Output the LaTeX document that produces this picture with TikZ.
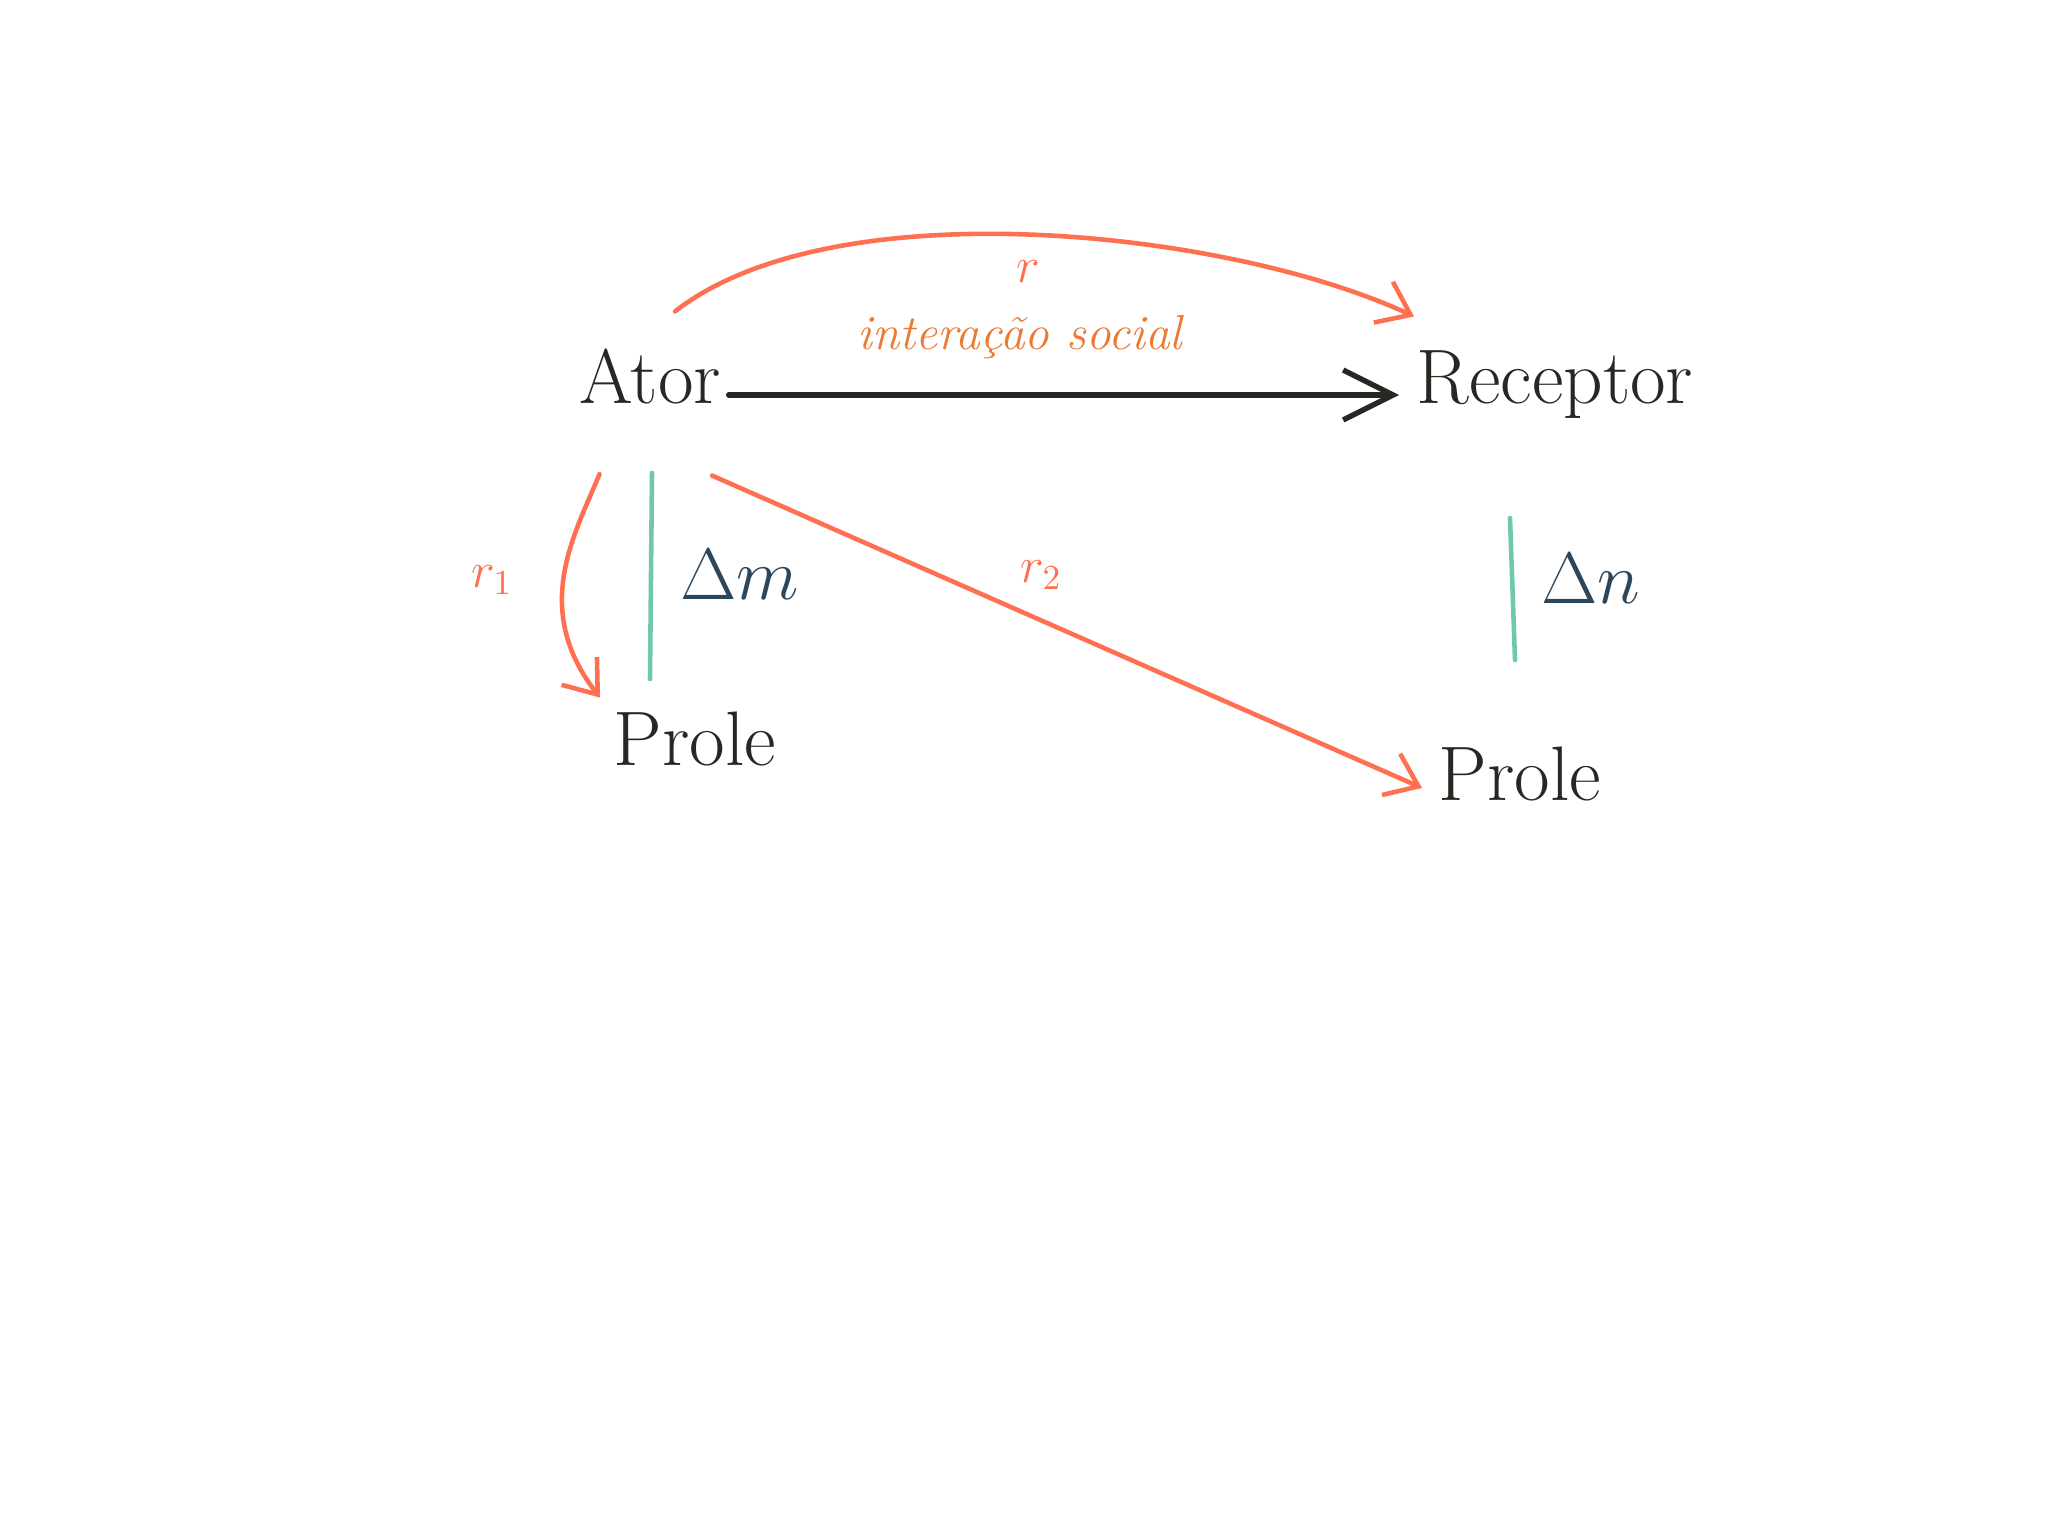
\documentclass[tikz,border=0pt]{standalone}
\usetikzlibrary{arrows.meta}

\definecolor{ink}{RGB}{40,40,35}
\definecolor{coral}{RGB}{255,112,80}
\definecolor{tangerine}{RGB}{236,122,52}
\definecolor{mint}{RGB}{112,200,170}
\definecolor{slate}{RGB}{45,70,90}

\begin{document}
\begin{tikzpicture}[> = {Straight Barb[length = 3mm, width = 4.5mm]}, line cap = round]

	% Definitions

	\def\Big{\fontsize{22}{26}\selectfont}	% Word size
	\def\Small{\fontsize{14}{17}\selectfont}	% Label size

	\tikzset{
		word/.style = {font = \Big, text = ink, text height = 0.7em, text depth = 0.2em, inner sep = 2pt},
		tag/.style = {font = \Small, text = coral},
		delta/.style = {font = \Big, text = slate},
		link/.style = {->, coral, line width = 1.3pt},
		bar/.style = {mint, line width = 1.3pt}
	}

	\useasboundingbox (0, 0) rectangle (20.48, -15.36);

	% Words

	\node [word] (ator) at (6.50, -3.95) {Ator};
	\node [word] (receptor) at (15.55, -3.95) {Receptor};
	\node [word] (proleA) at (6.95, -7.57) {Prole};
	\node [word] (proleR) at (15.20, -7.92) {Prole};

	% Social interaction

	\draw [-{Straight Barb[length = 5mm, width = 5mm]}, ink, line width = 1.5pt, shorten >= 1mm] (ator.east) -- (receptor.west);
	\node [font = \fontsize{14}{17}\selectfont\itshape, text = tangerine] (inter) at (10.20, -3.37) {interação social};

	% Relatedness arrows

	\draw [link] ([shift = {(0.25, 0.60)}] ator.north) to [out = 38, in = 155, looseness = 0.7] ([shift = {(0.05, 0.55)}] receptor.north west);
	\node [tag] (r) at (10.28, -2.72) {$r$};

	\draw [link, shorten <= 6mm, shorten >= 1mm] (ator.-140) to [out = -112, in = 128, looseness = 1.1] ([shift = {(0, 0.28)}] proleA.north west);
	\node [tag] (r1) at (4.92, -5.80) {$r_1$};

	\draw [link, shorten >= 1mm] ([shift = {(0.62, -0.57)}] ator.south) -- (proleR.west);
	\node [tag] (r2) at (10.41, -5.75) {$r_2$};

	% Fitness changes

	\coordinate (mTop) at (6.52, -4.73);
	\coordinate (mBot) at (6.50, -6.79);
	\draw [bar] (mTop) -- (mBot);
	\node [delta] (dm) at (7.40, -5.75) {$\Delta m$};

	\coordinate (nTop) at (15.10, -5.18);
	\coordinate (nBot) at (15.15, -6.60);
	\draw [bar] (nTop) -- (nBot);
	\node [delta] (dn) at (15.91, -5.79) {$\Delta n$};

\end{tikzpicture}
\end{document}
